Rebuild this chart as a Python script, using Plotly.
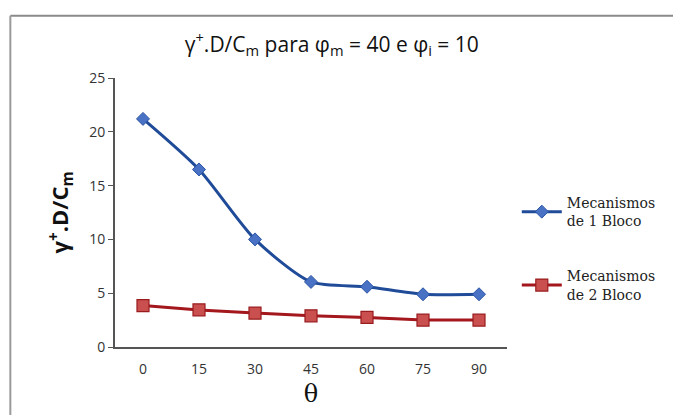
import plotly.graph_objects as go

# Ângulo θ (graus) e resultados por mecanismo
theta = ["0", "15", "30", "45", "60", "75", "90"]
mec_1_bloco = [21.2, 16.5, 10.0, 6.05, 5.6, 4.9, 4.9]
mec_2_bloco = [3.85, 3.45, 3.15, 2.9, 2.75, 2.5, 2.5]

nomes = ["Mecanismos<br>de 1 Bloco", "Mecanismos<br>de 2 Bloco"]
y_ticks = [0, 5, 10, 15, 20, 25]

fig = go.Figure()

fig.add_trace(go.Scatter(
    x=theta, y=mec_1_bloco, name=nomes[0], mode="lines+markers",
    legendgroup="g1",
    line=dict(color="#1f4b99", width=3, shape="spline", smoothing=0.7),
    marker=dict(symbol="diamond", size=10, color="#4a72c4",
                line=dict(color="#2a55a5", width=1)),
))
fig.add_trace(go.Scatter(
    x=theta, y=mec_2_bloco, name=nomes[1], mode="lines+markers",
    legendgroup="g2",
    line=dict(color="#a3171d", width=3),
    marker=dict(symbol="square", size=12, color="#c9504f",
                line=dict(color="#9a1c1f", width=1.2)),
))

fig.update_layout(
    width=673, height=415,
    margin=dict(l=115, r=160, t=78, b=68),
    paper_bgcolor="white", plot_bgcolor="white",
    showlegend=True,
    legend=dict(
        x=1.025, y=0.595, xanchor="left", yanchor="top",
        font=dict(family="DejaVu Serif", size=14, color="#222"),
        tracegroupgap=34, itemwidth=40,
        bgcolor="rgba(0,0,0,0)",
    ),
    title=dict(
        text="γ<sup>+</sup>.D/C<sub>m</sub> para φ<sub>m</sub> = 40 e φ<sub>i</sub> = 10",
        x=0.553, xref="paper", xanchor="center", y=0.893, yanchor="middle",
        font=dict(family="Open Sans", size=21, color="#111"),
    ),
    font=dict(family="Open Sans", color="#333"),
)

fig.update_xaxes(
    type="category", range=[-0.5, 6.5],
    showline=True, linecolor="#555", linewidth=2,
    showgrid=False, ticks="", ticklabelstandoff=8,
    tickfont=dict(size=14, color="#333"),
    title=dict(text="θ", font=dict(family="DejaVu Serif", size=24, color="#111"),
               standoff=8),
)
fig.update_yaxes(
    range=[0, 25], tickvals=y_ticks,
    showline=True, linecolor="#555", linewidth=2,
    showgrid=False, ticks="outside", ticklen=5, tickcolor="#555",
    tickfont=dict(size=14, color="#333"),
    title=dict(text="<b>γ<sup>+</sup>.D/C<sub>m</sub></b>",
               font=dict(family="Open Sans", size=22, color="#111"),
               standoff=14),
)

# Moldura superior e esquerda da área do gráfico
fig.add_shape(type="line", xref="paper", yref="paper",
              x0=-0.267, x1=1.45, y0=1.231, y1=1.231,
              line=dict(color="#8a8a8a", width=2))
fig.add_shape(type="line", xref="paper", yref="paper",
              x0=-0.267, x1=-0.267, y0=1.231, y1=-0.3,
              line=dict(color="#9a9a9a", width=2))

fig.write_html("out.html")
